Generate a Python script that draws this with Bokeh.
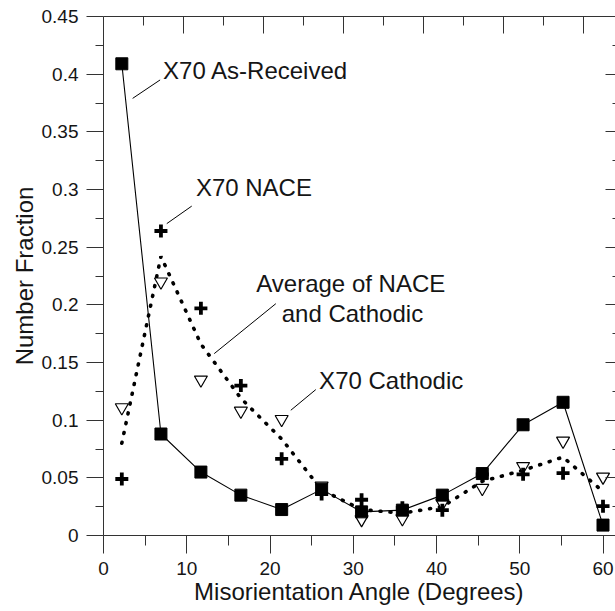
from bokeh.plotting import figure
from bokeh.models import LinearAxis, FixedTicker, Range1d, CustomLabelingPolicy
from bokeh.core.properties import value
from bokeh.embed import file_html
from bokeh.resources import INLINE

# Misorientation angle bin centres (degrees)
angle = [2.2, 6.9, 11.7, 16.5, 21.4, 26.2, 31.0, 35.9, 40.7, 45.5, 50.4, 55.2, 60.0]

# Number fraction of boundaries per bin
as_received = [0.409, 0.088, 0.055, 0.035, 0.0225, 0.040, 0.0205, 0.022, 0.035, 0.0537, 0.096, 0.1155, 0.009]
nace = [0.049, 0.264, 0.197, 0.130, 0.0665, 0.036, 0.031, 0.024, 0.022, 0.053, 0.053, 0.054, 0.0254]
cathodic = [0.111, 0.220, 0.135, 0.108, 0.1008, 0.043, 0.014, 0.0147, 0.028, 0.041, 0.060, 0.082, 0.0508]

# Mean of the NACE and cathodic distributions
average = [(a + b) / 2 for a, b in zip(nace, cathodic)]

# Axis ticks
x_ticks = [0, 10, 20, 30, 40, 50, 60]
x_minor = [5, 15, 25, 35, 45, 55]
x_tick_labels = ["0", "10", "20", "30", "40", "50", "60"]
y_ticks = [0, 0.05, 0.1, 0.15, 0.2, 0.25, 0.3, 0.35, 0.4, 0.45]
y_minor = [0.025, 0.075, 0.125, 0.175, 0.225, 0.275, 0.325, 0.375, 0.425]
y_tick_labels = ["0", "0.05", "0.1", "0.15", "0.2", "0.25", "0.3", "0.35", "0.4", "0.45"]
top_ticks = [9.6, 19.2, 28.8, 38.4, 48.0, 57.6]
top_minor = [4.8, 14.4, 24.0, 33.6, 43.2, 52.8]

FONT = "Liberation Sans"
INK = "#151515"
AXIS = "#333333"

p = figure(width=615, height=611, output_backend="svg", toolbar_location=None,
           x_range=Range1d(0, 61.5), y_range=Range1d(0, 0.45),
           x_axis_location=None, y_axis_location=None,
           min_border_left=103, min_border_right=0, min_border_top=16, min_border_bottom=76)
p.grid.visible = False
p.outline_line_color = None
p.background_fill_color = "white"
p.border_fill_color = "white"


def style_axis(ax):
    ax.axis_line_color = AXIS
    ax.axis_line_width = 1
    ax.major_tick_line_color = AXIS
    ax.minor_tick_line_color = AXIS
    ax.major_label_text_font = FONT
    ax.major_label_text_color = INK
    ax.axis_label_text_font = FONT
    ax.axis_label_text_color = INK
    ax.axis_label_text_font_style = "normal"


# Frame axes on top and right carry ticks only, so every label is filtered out
no_labels = CustomLabelingPolicy(code="""
    const kept = indices.clone()
    for (const i of indices) kept.unset(i)
    return kept
""")

bottom = LinearAxis(ticker=FixedTicker(ticks=x_ticks, minor_ticks=x_minor),
                    axis_label="Misorientation Angle (Degrees)")
style_axis(bottom)
bottom.major_label_overrides = dict(zip(x_ticks, x_tick_labels))
bottom.major_tick_in = 0
bottom.major_tick_out = 18
bottom.minor_tick_in = 0
bottom.minor_tick_out = 10
bottom.major_label_text_font_size = "19px"
bottom.major_label_standoff = 8
bottom.axis_label_text_font_size = "24px"
bottom.axis_label_standoff = 0
p.add_layout(bottom, "below")

left = LinearAxis(ticker=FixedTicker(ticks=y_ticks, minor_ticks=y_minor),
                  axis_label="Number Fraction")
style_axis(left)
left.major_label_overrides = dict(zip(y_ticks, y_tick_labels))
left.major_tick_in = 0
left.major_tick_out = 17
left.minor_tick_in = 0
left.minor_tick_out = 8
left.major_label_text_font_size = "19px"
left.major_label_standoff = 8
left.axis_label_text_font_size = "24px"
left.axis_label_standoff = 1
p.add_layout(left, "left")

top = LinearAxis(ticker=FixedTicker(ticks=top_ticks, minor_ticks=top_minor),
                 major_label_policy=no_labels)
style_axis(top)
top.major_tick_in = 17
top.major_tick_out = 0
top.minor_tick_in = 9
top.minor_tick_out = 0
top.major_label_text_font_size = "0px"
top.major_label_standoff = 0
p.add_layout(top, "above")

right = LinearAxis(ticker=FixedTicker(ticks=y_ticks, minor_ticks=y_minor),
                   major_label_policy=no_labels)
style_axis(right)
right.major_tick_in = 10
right.major_tick_out = 0
right.minor_tick_in = 3
right.minor_tick_out = 0
right.major_label_text_font_size = "0px"
right.major_label_standoff = 0
p.add_layout(right, "right")

# Average of NACE and cathodic (heavy dotted line)
p.line(angle, average, line_color="black", line_width=3.6, line_dash="1 9", line_cap="round")

# X70 cathodic: open downward triangles
p.scatter(angle, cathodic, marker="inverted_triangle", size=13,
          fill_color="white", line_color="black", line_width=1.2)

# X70 NACE: heavy crosses
p.scatter(angle, nace, marker="cross", size=13, line_color="black", line_width=3.8)

# X70 as-received: solid line with filled squares
p.line(angle, as_received, line_color="black", line_width=1.1)
p.scatter(angle, as_received, marker="square", size=12,
          fill_color="black", line_color="black")

# Callout leader lines
lead_x0 = [3.5, 7.6, 13.3, 22.5]
lead_y0 = [0.379, 0.2704, 0.1577, 0.1086]
lead_x1 = [6.8, 10.6, 20.7, 25.5]
lead_y1 = [0.395, 0.2856, 0.201, 0.1265]
p.segment(lead_x0, lead_y0, lead_x1, lead_y1, line_color="black", line_width=1)

# Callout texts
p.text(x=[7.15, 11.1, 25.9], y=[0.4032, 0.302, 0.1346],
       text=["X70 As-Received", "X70 NACE", "X70 Cathodic"],
       text_font=value(FONT), text_font_size="24px", text_color=INK,
       text_align="left", text_baseline="middle")
p.text(x=[29.7, 29.9], y=[0.2184, 0.1924],
       text=["Average of NACE", "and Cathodic"],
       text_font=value(FONT), text_font_size="24px", text_color=INK,
       text_align="center", text_baseline="middle")

open("out.html", "w").write(file_html(p, INLINE))
